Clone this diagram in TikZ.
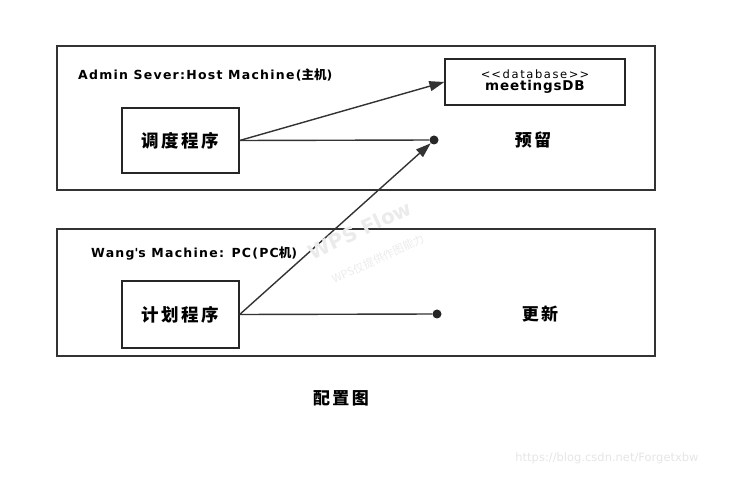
\documentclass[tikz,border=0pt]{standalone}
\usepackage{fontspec}
\setmainfont{DejaVu Sans}
\newfontfamily\cjk{Noto Sans CJK SC}
\usetikzlibrary{arrows.meta}
\begin{document}
\begin{tikzpicture}[x=1pt,y=-1pt,
  frame/.style={draw=black!80,line width=1.3pt},
  comp/.style={draw=black!85,line width=1.3pt,minimum width=117pt,minimum height=65pt,
    font=\cjk\bfseries\fontsize{17.5}{20}\selectfont\addfontfeature{LetterSpace=14}},
  cjklbl/.style={font=\cjk\bfseries\fontsize{17}{20}\selectfont\addfontfeature{LetterSpace=14}},
  lbl/.style={font=\bfseries\fontsize{12.5}{15}\selectfont\addfontfeature{LetterSpace=10},anchor=west,inner sep=0pt},
  conn/.style={draw=black!80,line width=1.4pt},
  arr/.style={conn,-{Triangle[length=15pt,width=10pt]}},
  dot/.style={circle,fill=black!85,inner sep=0pt,minimum size=9pt}]
\useasboundingbox (0,0) rectangle (729,478);
% frames
\draw[frame] (57,46) rectangle (655,190);
\draw[frame] (57,229) rectangle (655,356);
\node[lbl] (hostlbl) at (78,75) {Admin Sever:Host Machine({\cjk\bfseries 主机})};
\node[lbl] (pclbl) at (91,254) {Wang\textquotesingle s Machine: PC(PC{\cjk\bfseries 机})};
% components
\node[comp] (sched) at (180.5,140.5) {调度程序};
\node[comp,minimum height=67pt] (plan) at (180.5,314.5) {计划程序};
\node[draw=black!85,line width=1.3pt,minimum width=180pt,minimum height=46pt,align=center,inner sep=1pt] (db) at (535,82)
  {{\fontsize{11.5}{12}\selectfont\addfontfeature{LetterSpace=14}\textless\kern1pt\textless database\textgreater\kern1pt\textgreater}\\[0pt]{\bfseries\fontsize{13.5}{15}\selectfont\addfontfeature{LetterSpace=6}meetingsDB}};
\node[dot] (d1) at (434,140) {};
\node[dot] (d2) at (437,314) {};
\node[cjklbl] (reserve) at (533,140) {预留};
\node[cjklbl] (update) at (540,314) {更新};
\node[cjklbl] (title) at (341,398) {配置图};
% connectors
\draw[conn] (sched.east) -- (d1);
\draw[arr] (sched.east) -- (db.west);
\draw[conn] (plan.east) -- (d2);
\draw[arr] (plan.east) -- (d1.south west);
% watermarks
\node[rotate=25,text=black!8,font=\bfseries\fontsize{20}{22}\selectfont] (wm1) at (360,230) {WPS Flow};
\node[rotate=25,text=black!8,font=\cjk\fontsize{11}{12}\selectfont] (wm2) at (378,259) {WPS仅提供作图能力};
\node[text=black!10,font=\fontsize{11.5}{14}\selectfont] (url) at (607,458) {https://blog.csdn.net/Forgetxbw};
\end{tikzpicture}
\end{document}
